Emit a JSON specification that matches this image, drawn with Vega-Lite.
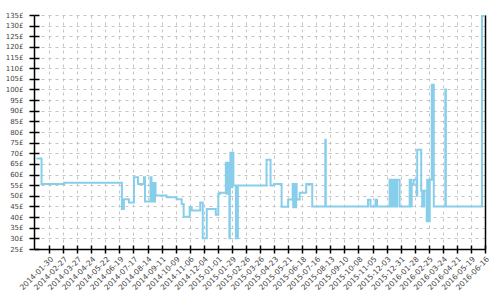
{
  "$schema": "https://vega.github.io/schema/vega-lite/v6.json",
  "width": 451,
  "height": 234,
  "autosize": "none",
  "padding": {"left": 34, "top": 15, "right": 15, "bottom": 51},
  "config": {
    "view": {"stroke": null},
    "font": "DejaVu Sans",
    "axis": {"domainColor": "#000", "tickColor": "#000", "domainWidth": 1.5, "tickWidth": 1.5, "labelColor": "#444", "labelFont": "DejaVu Sans", "title": null}
  },
  "data": {"values": [
    {"date": "2014-01-05", "price": 67.5},
    {"date": "2014-01-15", "price": 55.5},
    {"date": "2014-03-01", "price": 56.2},
    {"date": "2014-06-24", "price": 43.8},
    {"date": "2014-06-28", "price": 48.4},
    {"date": "2014-07-08", "price": 46.9},
    {"date": "2014-07-18", "price": 58.7},
    {"date": "2014-07-26", "price": 55.6},
    {"date": "2014-08-07", "price": 58.7},
    {"date": "2014-08-09", "price": 47.3},
    {"date": "2014-08-20", "price": 58.7},
    {"date": "2014-08-22", "price": 47.3},
    {"date": "2014-08-23", "price": 56},
    {"date": "2014-08-24", "price": 47.3},
    {"date": "2014-08-25", "price": 56},
    {"date": "2014-08-26", "price": 47.3},
    {"date": "2014-08-27", "price": 56},
    {"date": "2014-08-28", "price": 47.3},
    {"date": "2014-08-29", "price": 56},
    {"date": "2014-08-30", "price": 50.1},
    {"date": "2014-09-21", "price": 49.3},
    {"date": "2014-10-11", "price": 48.4},
    {"date": "2014-10-21", "price": 46.2},
    {"date": "2014-10-25", "price": 40.2},
    {"date": "2014-11-06", "price": 44.8},
    {"date": "2014-11-10", "price": 43.1},
    {"date": "2014-11-27", "price": 46.9},
    {"date": "2014-12-02", "price": 30},
    {"date": "2014-12-10", "price": 43.8},
    {"date": "2014-12-28", "price": 41.1},
    {"date": "2015-01-02", "price": 50.9},
    {"date": "2015-01-05", "price": 51.4},
    {"date": "2015-01-17", "price": 65.5},
    {"date": "2015-01-18", "price": 51},
    {"date": "2015-01-19", "price": 65.5},
    {"date": "2015-01-20", "price": 51},
    {"date": "2015-01-21", "price": 65.5},
    {"date": "2015-01-22", "price": 52},
    {"date": "2015-01-23", "price": 65.5},
    {"date": "2015-01-24", "price": 30},
    {"date": "2015-01-25", "price": 65.5},
    {"date": "2015-01-26", "price": 70.2},
    {"date": "2015-01-27", "price": 55},
    {"date": "2015-01-28", "price": 70.2},
    {"date": "2015-01-29", "price": 54},
    {"date": "2015-01-30", "price": 70.2},
    {"date": "2015-02-01", "price": 54.8},
    {"date": "2015-02-06", "price": 30},
    {"date": "2015-02-10", "price": 54.8},
    {"date": "2015-04-08", "price": 67},
    {"date": "2015-04-16", "price": 54.8},
    {"date": "2015-04-23", "price": 55.6},
    {"date": "2015-05-08", "price": 44.9},
    {"date": "2015-05-21", "price": 48.3},
    {"date": "2015-05-30", "price": 55.6},
    {"date": "2015-05-31", "price": 44.6},
    {"date": "2015-06-01", "price": 55.6},
    {"date": "2015-06-02", "price": 44.6},
    {"date": "2015-06-03", "price": 55.6},
    {"date": "2015-06-05", "price": 44.6},
    {"date": "2015-06-06", "price": 55.6},
    {"date": "2015-06-07", "price": 48.3},
    {"date": "2015-06-13", "price": 51.4},
    {"date": "2015-06-26", "price": 55.6},
    {"date": "2015-07-08", "price": 45},
    {"date": "2015-08-03", "price": 76.4},
    {"date": "2015-08-04", "price": 45},
    {"date": "2015-10-27", "price": 48.1},
    {"date": "2015-11-01", "price": 45},
    {"date": "2015-11-11", "price": 48.1},
    {"date": "2015-11-14", "price": 45},
    {"date": "2015-12-09", "price": 57.5},
    {"date": "2015-12-10", "price": 45},
    {"date": "2015-12-11", "price": 57.5},
    {"date": "2015-12-13", "price": 45},
    {"date": "2015-12-14", "price": 57.5},
    {"date": "2015-12-16", "price": 45},
    {"date": "2015-12-17", "price": 57.5},
    {"date": "2015-12-21", "price": 45},
    {"date": "2015-12-24", "price": 57.5},
    {"date": "2015-12-29", "price": 45},
    {"date": "2016-01-18", "price": 57.5},
    {"date": "2016-01-21", "price": 45},
    {"date": "2016-01-22", "price": 55.6},
    {"date": "2016-01-26", "price": 57.5},
    {"date": "2016-02-01", "price": 50},
    {"date": "2016-02-02", "price": 71.6},
    {"date": "2016-02-10", "price": 52.4},
    {"date": "2016-02-12", "price": 45},
    {"date": "2016-02-13", "price": 52.4},
    {"date": "2016-02-15", "price": 45},
    {"date": "2016-02-16", "price": 52.4},
    {"date": "2016-02-21", "price": 38},
    {"date": "2016-02-22", "price": 57.5},
    {"date": "2016-02-23", "price": 38},
    {"date": "2016-02-24", "price": 57.5},
    {"date": "2016-02-25", "price": 38},
    {"date": "2016-02-27", "price": 57.5},
    {"date": "2016-03-02", "price": 102.2},
    {"date": "2016-03-06", "price": 45},
    {"date": "2016-03-29", "price": 100},
    {"date": "2016-03-30", "price": 45},
    {"date": "2016-06-10", "price": 134.5},
    {"date": "2016-06-16", "price": 134.5}
  ]},
  "encoding": {
    "x": {"field": "date", "type": "temporal", "scale": {"type": "utc", "domain": [{"year": 2013, "month": 12, "date": 31, "utc": true}, {"year": 2016, "month": 6, "date": 16, "utc": true}]}},
    "y": {"field": "price", "type": "quantitative", "scale": {"domain": [25, 135], "nice": false, "zero": false}}
  },
  "layer": [
    {
      "mark": {"type": "line", "interpolate": "step-after", "color": "#87CEEB", "strokeWidth": 2, "clip": true},
      "encoding": {
        "x": {"field": "date", "type": "temporal", "axis": {
          "orient": "bottom",
          "values": [
            {"year": 2014, "month": 1, "date": 30, "utc": true},
            {"year": 2014, "month": 2, "date": 27, "utc": true},
            {"year": 2014, "month": 3, "date": 27, "utc": true},
            {"year": 2014, "month": 4, "date": 24, "utc": true},
            {"year": 2014, "month": 5, "date": 22, "utc": true},
            {"year": 2014, "month": 6, "date": 19, "utc": true},
            {"year": 2014, "month": 7, "date": 17, "utc": true},
            {"year": 2014, "month": 8, "date": 14, "utc": true},
            {"year": 2014, "month": 9, "date": 11, "utc": true},
            {"year": 2014, "month": 10, "date": 9, "utc": true},
            {"year": 2014, "month": 11, "date": 6, "utc": true},
            {"year": 2014, "month": 12, "date": 4, "utc": true},
            {"year": 2015, "month": 1, "date": 1, "utc": true},
            {"year": 2015, "month": 1, "date": 29, "utc": true},
            {"year": 2015, "month": 2, "date": 26, "utc": true},
            {"year": 2015, "month": 3, "date": 26, "utc": true},
            {"year": 2015, "month": 4, "date": 23, "utc": true},
            {"year": 2015, "month": 5, "date": 21, "utc": true},
            {"year": 2015, "month": 6, "date": 18, "utc": true},
            {"year": 2015, "month": 7, "date": 16, "utc": true},
            {"year": 2015, "month": 8, "date": 13, "utc": true},
            {"year": 2015, "month": 9, "date": 10, "utc": true},
            {"year": 2015, "month": 10, "date": 8, "utc": true},
            {"year": 2015, "month": 11, "date": 5, "utc": true},
            {"year": 2015, "month": 12, "date": 3, "utc": true},
            {"year": 2015, "month": 12, "date": 31, "utc": true},
            {"year": 2016, "month": 1, "date": 28, "utc": true},
            {"year": 2016, "month": 2, "date": 25, "utc": true},
            {"year": 2016, "month": 3, "date": 24, "utc": true},
            {"year": 2016, "month": 4, "date": 21, "utc": true},
            {"year": 2016, "month": 5, "date": 19, "utc": true},
            {"year": 2016, "month": 6, "date": 16, "utc": true}
          ],
          "labelExpr": "utcFormat(datum.value, '%Y-%m-%d')",
          "labelAngle": -45, "labelAlign": "right", "labelBaseline": "top",
          "labelFontSize": 7.5, "labelPadding": 2, "tickSize": 4, "labelOverlap": false, "labelBound": false, "labelFlush": false,
          "grid": true, "gridDash": [3, 4], "gridColor": "#c4c4c4", "gridWidth": 1
        }},
        "y": {"field": "price", "type": "quantitative", "axis": {
          "orient": "left",
          "values": [25, 30, 35, 40, 45, 50, 55, 60, 65, 70, 75, 80, 85, 90, 95, 100, 105, 110, 115, 120, 125, 130, 135],
          "labelExpr": "datum.value + '£'",
          "labelFontSize": 7, "labelPadding": 6, "tickSize": 5, "labelOverlap": false, "labelBound": false, "labelFlush": false,
          "grid": true, "gridDash": [3, 4], "gridColor": "#c4c4c4", "gridWidth": 1
        }}
      }
    },
    {
      "mark": {"type": "line", "interpolate": "step-after", "opacity": 0},
      "encoding": {
        "x": {"field": "date", "type": "temporal", "axis": {
          "orient": "bottom",
          "values": [
            {"year": 2014, "month": 1, "date": 30, "utc": true},
            {"year": 2014, "month": 2, "date": 27, "utc": true},
            {"year": 2014, "month": 3, "date": 27, "utc": true},
            {"year": 2014, "month": 4, "date": 24, "utc": true},
            {"year": 2014, "month": 5, "date": 22, "utc": true},
            {"year": 2014, "month": 6, "date": 19, "utc": true},
            {"year": 2014, "month": 7, "date": 17, "utc": true},
            {"year": 2014, "month": 8, "date": 14, "utc": true},
            {"year": 2014, "month": 9, "date": 11, "utc": true},
            {"year": 2014, "month": 10, "date": 9, "utc": true},
            {"year": 2014, "month": 11, "date": 6, "utc": true},
            {"year": 2014, "month": 12, "date": 4, "utc": true},
            {"year": 2015, "month": 1, "date": 1, "utc": true},
            {"year": 2015, "month": 1, "date": 29, "utc": true},
            {"year": 2015, "month": 2, "date": 26, "utc": true},
            {"year": 2015, "month": 3, "date": 26, "utc": true},
            {"year": 2015, "month": 4, "date": 23, "utc": true},
            {"year": 2015, "month": 5, "date": 21, "utc": true},
            {"year": 2015, "month": 6, "date": 18, "utc": true},
            {"year": 2015, "month": 7, "date": 16, "utc": true},
            {"year": 2015, "month": 8, "date": 13, "utc": true},
            {"year": 2015, "month": 9, "date": 10, "utc": true},
            {"year": 2015, "month": 10, "date": 8, "utc": true},
            {"year": 2015, "month": 11, "date": 5, "utc": true},
            {"year": 2015, "month": 12, "date": 3, "utc": true},
            {"year": 2015, "month": 12, "date": 31, "utc": true},
            {"year": 2016, "month": 1, "date": 28, "utc": true},
            {"year": 2016, "month": 2, "date": 25, "utc": true},
            {"year": 2016, "month": 3, "date": 24, "utc": true},
            {"year": 2016, "month": 4, "date": 21, "utc": true},
            {"year": 2016, "month": 5, "date": 19, "utc": true},
            {"year": 2016, "month": 6, "date": 16, "utc": true}
          ],
          "labels": false, "domain": false, "grid": false, "tickSize": -4
        }},
        "y": {"field": "price", "type": "quantitative", "axis": {
          "orient": "left",
          "values": [25, 30, 35, 40, 45, 50, 55, 60, 65, 70, 75, 80, 85, 90, 95, 100, 105, 110, 115, 120, 125, 130, 135],
          "labels": false, "domain": false, "grid": false, "tickSize": -5
        }}
      }
    },
    {
      "mark": {"type": "line", "interpolate": "step-after", "opacity": 0},
      "encoding": {
        "x": {"field": "date", "type": "temporal", "axis": null},
        "y": {"field": "price", "type": "quantitative", "axis": {
          "orient": "right", "labels": false, "ticks": false, "grid": false, "domain": true
        }}
      }
    }
  ],
  "resolve": {"axis": {"x": "independent", "y": "independent"}}
}
